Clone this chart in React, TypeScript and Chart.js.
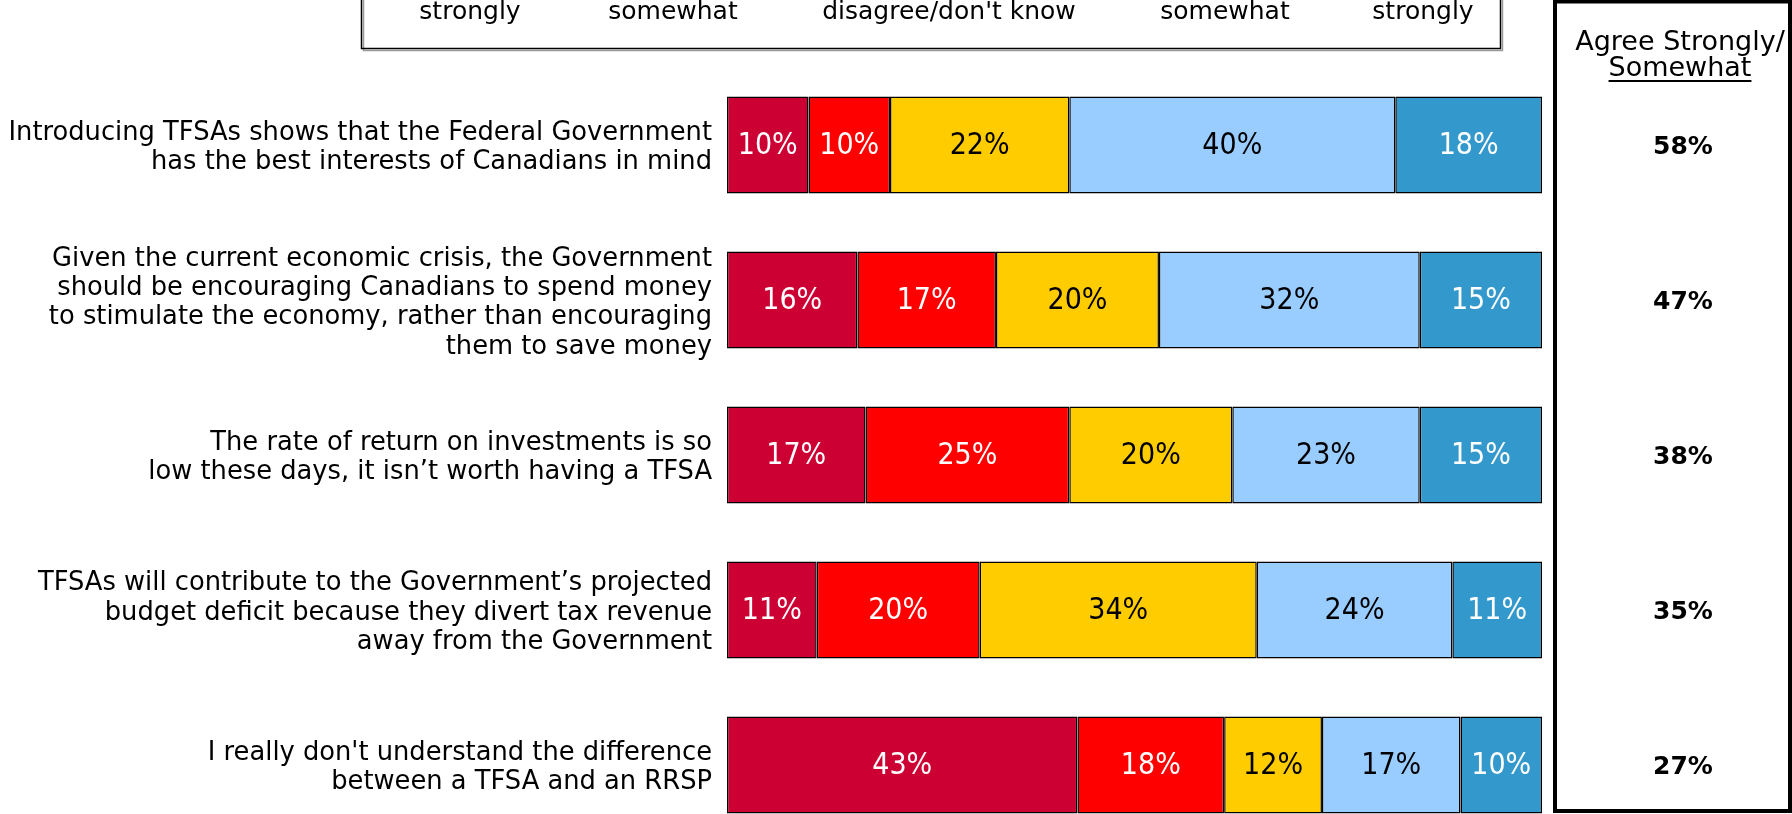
import React, { useEffect, useRef } from "react";
import { Chart, registerables } from "chart.js";

Chart.register(...registerables);

// ---------- data ----------
const categories: string[][] = [
  ["Introducing TFSAs shows that the Federal Government", "has the best interests of Canadians in mind"],
  [
    "Given the current economic crisis, the Government",
    "should be encouraging Canadians to spend money",
    "to stimulate the economy, rather than encouraging",
    "them to save money",
  ],
  ["The rate of return on investments is so", "low these days, it isn\u2019t worth having a TFSA"],
  [
    "TFSAs will contribute to the Government\u2019s projected",
    "budget deficit because they divert tax revenue",
    "away from the Government",
  ],
  ["I really don't understand the difference", "between a TFSA and an RRSP"],
];

const seriesNames = [
  "Disagree strongly",
  "Disagree somewhat",
  "Neither agree nor disagree/don't know",
  "Agree somewhat",
  "Agree strongly",
];
const legendLines = ["strongly", "somewhat", "disagree/don't know", "somewhat", "strongly"];

const disagreeStrongly = [10, 16, 17, 11, 43];
const disagreeSomewhat = [10, 17, 25, 20, 18];
const neutral = [22, 20, 20, 34, 12];
const agreeSomewhat = [40, 32, 23, 24, 17];
const agreeStrongly = [18, 15, 15, 11, 10];

const agreeTotal = [58, 47, 38, 35, 27];
const summaryHeader = ["Agree Strongly/", "Somewhat"];

// ---------- styles / layout ----------
const FILL = ["#CC0033", "#FF0000", "#FFCC00", "#99CCFF", "#3399CC"];
const TEXT = ["#FFFFFF", "#FFFFFF", "#000000", "#000000", "#FFFFFF"];
const FONT = "'DejaVu Sans', Verdana, sans-serif";
const BAR_FONT = "'Liberation Sans Narrow', 'DejaVu Sans Condensed', 'Arial Narrow', sans-serif";
const LEGEND_X = [470, 673, 949, 1225, 1423];
const W = 1792;
const H = 860;

const overlayPlugin = {
  id: "overlay",
  afterDatasetsDraw(chart: any) {
    const ctx = chart.ctx as CanvasRenderingContext2D;
    chart.data.datasets.forEach((ds: any, di: number) => {
      const meta = chart.getDatasetMeta(di);
      meta.data.forEach((el: any, i: number) => {
        const p = el.getCenterPoint();
        ctx.save();
        ctx.font = `30px ${BAR_FONT}`;
        ctx.fillStyle = TEXT[di];
        ctx.textAlign = "center";
        ctx.textBaseline = "middle";
        ctx.fillText(`${ds.data[i]}%`, p.x, p.y + 1);
        ctx.restore();
      });
    });
  },
  afterDraw(chart: any) {
    const ctx = chart.ctx as CanvasRenderingContext2D;
    const yScale = chart.scales.y;
    ctx.save();
    // legend box (top part clipped by the page)
    ctx.strokeStyle = "#9a9a9a";
    ctx.lineWidth = 1.5;
    ctx.strokeRect(363.5, -20, 1139, 70.5);
    ctx.strokeStyle = "#000";
    ctx.lineWidth = 1.5;
    ctx.strokeRect(361.5, -20, 1139, 68.5);
    ctx.font = `25px ${FONT}`;
    ctx.fillStyle = "#000";
    ctx.textAlign = "center";
    ctx.textBaseline = "middle";
    legendLines.forEach((t, i) => ctx.fillText(t, LEGEND_X[i], 12));

    // summary box
    ctx.strokeStyle = "#000";
    ctx.lineWidth = 4;
    ctx.strokeRect(1555, 1.5, 235, 809.5);
    const hx = 1680;
    ctx.font = `27px ${FONT}`;
    ctx.fillText(summaryHeader[0], hx, 43);
    ctx.fillText(summaryHeader[1], hx, 69);
    const wSome = ctx.measureText(summaryHeader[1]).width;
    ctx.lineWidth = 2;
    ctx.beginPath();
    ctx.moveTo(hx - wSome / 2, 81);
    ctx.lineTo(hx + wSome / 2, 81);
    ctx.stroke();
    ctx.font = `bold 25px ${FONT}`;
    agreeTotal.forEach((v, i) => {
      ctx.fillText(`${v}%`, 1683, yScale.getPixelForValue(i) + 2);
    });
    ctx.restore();
  },
};

export default function App() {
  const ref = useRef<HTMLCanvasElement | null>(null);

  useEffect(() => {
    document.body.style.margin = "0";
    document.documentElement.style.overflow = "hidden";
    document.body.style.overflow = "hidden";
    const canvas = ref.current;
    if (!canvas) return;
    const series = [disagreeStrongly, disagreeSomewhat, neutral, agreeSomewhat, agreeStrongly];
    const chart = new Chart(canvas, {
      type: "bar",
      data: {
        labels: categories,
        datasets: series.map((d, i) => ({
          label: seriesNames[i],
          data: d,
          backgroundColor: FILL[i],
          borderColor: "#000",
          borderWidth: 1.5,
          borderSkipped: false,
          barPercentage: 1,
          categoryPercentage: 0.626,
        })),
      },
      options: {
        indexAxis: "y",
        responsive: false,
        animation: false,
        devicePixelRatio: 1,
        layout: { padding: { left: 0, right: W - 1542, top: 67.5, bottom: H - 842.5 } },
        plugins: {
          legend: { display: false },
          tooltip: { enabled: false },
          title: { display: false },
        },
        scales: {
          x: {
            stacked: true,
            min: 0,
            max: 100,
            display: false,
          },
          y: {
            stacked: true,
            grid: { display: false, drawTicks: false },
            border: { display: false },
            ticks: {
              color: "#000",
              padding: 15,
              labelOffset: 3,
              font: { family: FONT, size: 25.75, lineHeight: 1.14 },
            },
            afterFit: (scale: any) => {
              scale.width = 727;
              scale.paddingTop = 0;
              scale.paddingBottom = 0;
            },
          },
        },
      },
      plugins: [overlayPlugin],
    } as any);
    return () => chart.destroy();
  }, []);

  return (
    <div style={{ width: W, height: 814, overflow: "hidden", position: "relative", background: "#fff" }}>
      <canvas ref={ref} width={W} height={H} style={{ display: "block", width: W, height: H }} />
    </div>
  );
}
